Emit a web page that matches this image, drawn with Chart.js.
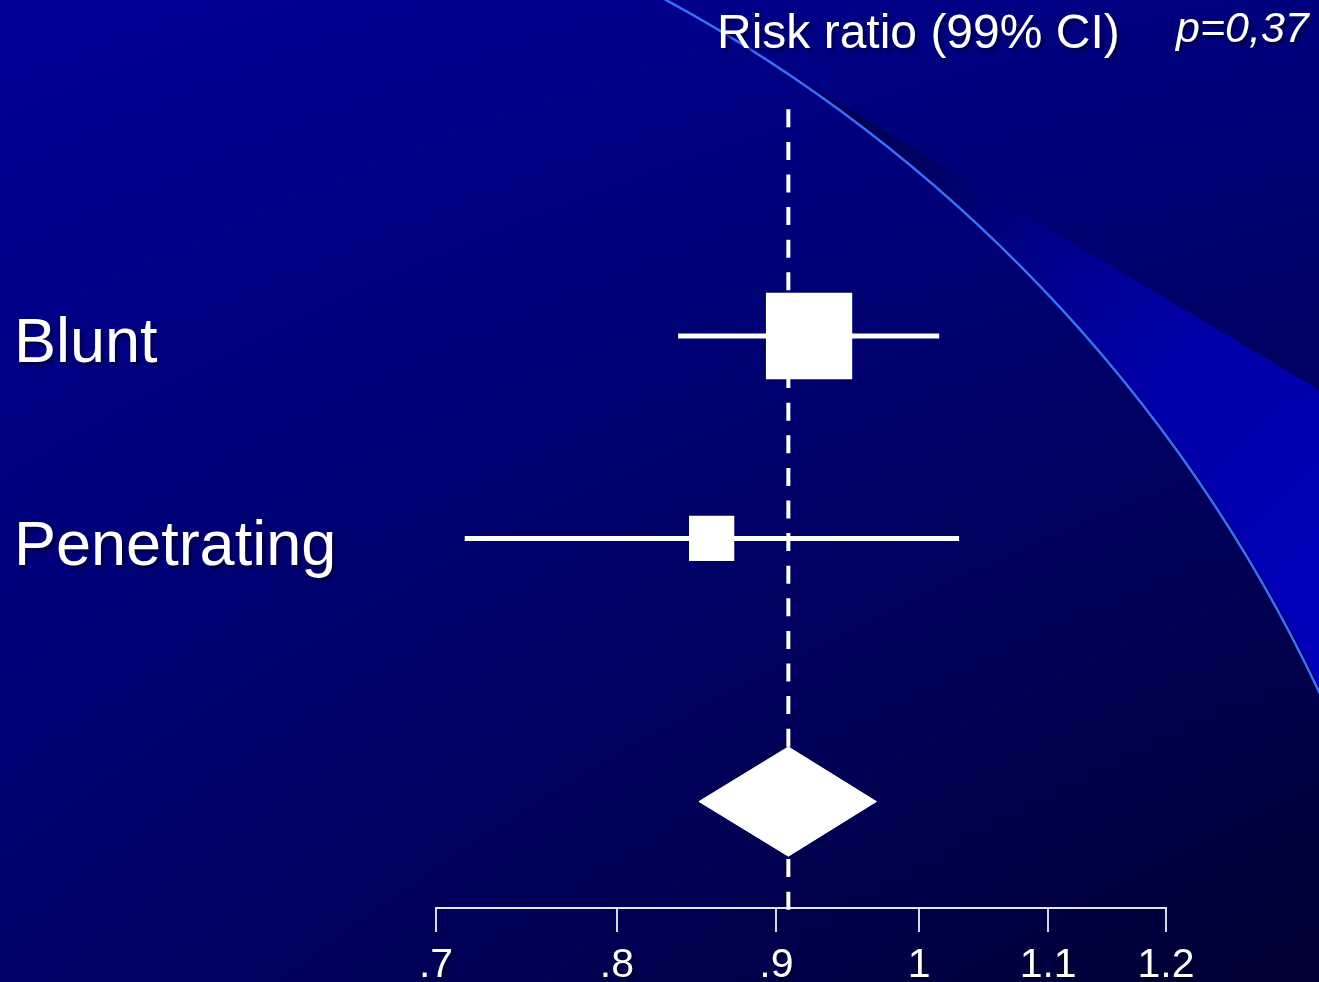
<!DOCTYPE html>
<html>
<head>
<meta charset="utf-8">
<title>Risk ratio (99% CI) – Blunt vs Penetrating</title>
<script src="https://cdn.jsdelivr.net/npm/chart.js@4.4.1/dist/chart.umd.min.js"></script>
<style>
  html, body { margin: 0; padding: 0; background: #000070; overflow: hidden; }
  canvas { display: block; }
</style>
</head>
<body>
<canvas id="forest" width="1319" height="982"></canvas>
<script>
// ---- Subgroup estimates: risk ratio with 99% confidence interval ----
const groups     = ['Blunt', 'Penetrating'];
const groupRows  = [1, 2];
const groupRR    = [0.922, 0.858];
const groupLower = [0.837, 0.715];
const groupUpper = [1.015, 1.030];

// ---- Pooled estimate ----
const pooledRow   = 3.3;
const pooledRR    = 0.908;
const pooledLower = 0.850;
const pooledUpper = 0.969;

// ---- Axis ----
const xTicks      = [0.7, 0.8, 0.9, 1, 1.1, 1.2];
const xTickLabels = ['.7', '.8', '.9', '1', '1.1', '1.2'];

const headerText = 'Risk ratio (99% CI)';
const pText      = 'p=0,37';

// ---- Style ----
const FONT = '"Liberation Sans", Arial, Helvetica, sans-serif';
const WHITE = '#ffffff';
const boxRadius = [61, 32];        // rect point radius per subgroup (side = r * sqrt 2)
const diamondHalf = 0.27;          // half height of pooled diamond, in row units
const yMin = -0.66, yMax = 3.826;  // row range shown (reversed)
const refTop = -0.12, refBottom = 3.85;

// Slide backdrop: diagonal blue shading, a bright swoosh and a thin arc
let backdropCache = null;
function buildBackdrop(w, h) {
  const c = document.createElement('canvas');
  c.width = w; c.height = h;
  const g = c.getContext('2d');
  const img = g.createImageData(w, h);
  const d = img.data;
  const tl = 150, tr = 126, bl = 104, br = 50;
  for (let y = 0; y < h; y++) {
    const v = y / (h - 1);
    for (let x = 0; x < w; x++) {
      const u = x / (w - 1);
      const b = tl * (1 - u) * (1 - v) + tr * u * (1 - v) + bl * (1 - u) * v + br * u * v;
      const i = (y * w + x) * 4;
      d[i] = 0; d[i + 1] = 0; d[i + 2] = b; d[i + 3] = 255;
    }
  }
  g.putImageData(img, 0, 0);

  // arc geometry
  const cx = -68, cy = 1347, r = 1534;
  const yRight = cy - Math.sqrt(r * r - (w - cx) * (w - cx));
  const aRight = Math.atan2(yRight - cy, w - cx);
  const yTop = -15;
  const xTop = cx + Math.sqrt(r * r - (yTop - cy) * (yTop - cy));
  const aTop = Math.atan2(yTop - cy, xTop - cx);

  // swoosh between straight edge and arc
  const grad = g.createLinearGradient(850, 110, w, 560);
  grad.addColorStop(0, '#000052');
  grad.addColorStop(0.12, '#000060');
  grad.addColorStop(0.37, '#00008c');
  grad.addColorStop(0.6, '#0000a6');
  grad.addColorStop(1, '#0000b8');
  g.beginPath();
  g.moveTo(xTop + 3, yTop);
  g.lineTo(w, 390);
  g.lineTo(w, yRight);
  g.arc(cx, cy, r, aRight, aTop, true);
  g.closePath();
  g.fillStyle = grad;
  g.fill();

  // arc shadow + arc line
  g.beginPath();
  g.arc(cx + 2, cy + 1, r, aTop - 0.01, aRight + 0.02);
  g.strokeStyle = 'rgba(0,0,25,0.85)';
  g.lineWidth = 2;
  g.stroke();
  g.beginPath();
  g.arc(cx, cy, r, aTop - 0.01, aRight + 0.02);
  g.strokeStyle = '#3b6cff';
  g.lineWidth = 2.5;
  g.stroke();
  return c;
}

const backdropPlugin = {
  id: 'backdrop',
  beforeDraw(chart) {
    const { ctx, width, height } = chart;
    if (!backdropCache) backdropCache = buildBackdrop(width, height);
    ctx.save();
    ctx.drawImage(backdropCache, 0, 0);
    ctx.restore();
  }
};

function setShadow(ctx) {
  ctx.shadowColor = 'rgba(0,0,30,0.6)';
  ctx.shadowOffsetX = 3;
  ctx.shadowOffsetY = 3;
  ctx.shadowBlur = 3;
}

// Soft drop shadow behind axis labels
const labelShadowPlugin = {
  id: 'labelShadow',
  beforeDraw(chart) {
    Object.values(chart.scales).forEach(scale => {
      if (scale._shadowWrapped) return;
      const original = scale.drawLabels;
      scale.drawLabels = function (area) {
        const ctx = this.ctx;
        ctx.save();
        setShadow(ctx);
        original.call(this, area);
        ctx.restore();
      };
      scale._shadowWrapped = true;
    });
  }
};

// Column header and p-value
const headerPlugin = {
  id: 'header',
  afterDraw(chart) {
    const ctx = chart.ctx;
    ctx.save();
    setShadow(ctx);
    ctx.fillStyle = WHITE;
    ctx.textBaseline = 'alphabetic';
    ctx.textAlign = 'left';
    ctx.font = '48px ' + FONT;
    ctx.fillText(headerText, 717, 48);
    ctx.font = 'italic 43px ' + FONT;
    ctx.fillText(pText, 1176, 42);
    ctx.restore();
  }
};

const datasets = [];

// vertical dashed line at the pooled estimate
datasets.push({
  label: 'pooled estimate line',
  data: [{ x: pooledRR, y: refTop }, { x: pooledRR, y: refBottom }],
  borderColor: WHITE,
  borderWidth: 4,
  borderDash: [18, 14.6],
  borderCapStyle: 'butt',
  pointRadius: 0,
  clip: false
});

// confidence interval whiskers
groups.forEach((name, i) => {
  datasets.push({
    label: name + ' 99% CI',
    data: [{ x: groupLower[i], y: groupRows[i] }, { x: groupUpper[i], y: groupRows[i] }],
    borderColor: WHITE,
    borderWidth: 5,
    borderCapStyle: 'butt',
    pointRadius: 0
  });
});

// point estimates as squares
datasets.push({
  label: 'estimates',
  data: groups.map((name, i) => ({ x: groupRR[i], y: groupRows[i] })),
  showLine: false,
  pointStyle: 'rect',
  pointRadius: boxRadius,
  pointBackgroundColor: WHITE,
  pointBorderWidth: 0,
  borderWidth: 0
});

// pooled diamond
datasets.push({
  label: 'pooled',
  data: [
    { x: pooledLower, y: pooledRow },
    { x: pooledRR, y: pooledRow - diamondHalf },
    { x: pooledUpper, y: pooledRow },
    { x: pooledRR, y: pooledRow + diamondHalf },
    { x: pooledLower, y: pooledRow }
  ],
  fill: 'shape',
  backgroundColor: WHITE,
  borderColor: WHITE,
  borderWidth: 1,
  pointRadius: 0,
  tension: 0
});

new Chart(document.getElementById('forest'), {
  type: 'line',
  data: { datasets },
  options: {
    responsive: false,
    animation: false,
    events: [],
    layout: { autoPadding: false, padding: { left: 14, right: 153, top: 0, bottom: 0 } },
    plugins: {
      legend: { display: false },
      tooltip: { enabled: false },
      title: { display: false }
    },
    scales: {
      x: {
        type: 'logarithmic',
        position: 'bottom',
        min: 0.7,
        max: 1.2,
        afterBuildTicks: s => { s.ticks = xTicks.map(v => ({ value: v })); },
        afterFit: s => { s.height = 74; s.paddingLeft = 0; s.paddingRight = 0; },
        ticks: {
          autoSkip: false,
          maxRotation: 0,
          color: WHITE,
          padding: 9,
          font: { family: FONT, size: 41 },
          callback: (v, i) => xTickLabels[i]
        },
        grid: {
          drawOnChartArea: false,
          drawTicks: true,
          tickLength: 24,
          color: '#d8d8e2',
          lineWidth: 2
        },
        border: { display: true, color: '#e6e6ee', width: 2 }
      },
      y: {
        type: 'linear',
        position: 'left',
        reverse: true,
        min: yMin,
        max: yMax,
        afterBuildTicks: s => { s.ticks = groupRows.map(v => ({ value: v })); },
        afterFit: s => { s.width = 422; s.paddingTop = 0; s.paddingBottom = 0; },
        ticks: {
          autoSkip: false,
          color: WHITE,
          crossAlign: 'far',
          labelOffset: 9,
          font: { family: FONT, size: 63 },
          callback: (v, i) => groups[i]
        },
        grid: { display: false },
        border: { display: false }
      }
    }
  },
  plugins: [backdropPlugin, labelShadowPlugin, headerPlugin]
});
</script>
</body>
</html>
